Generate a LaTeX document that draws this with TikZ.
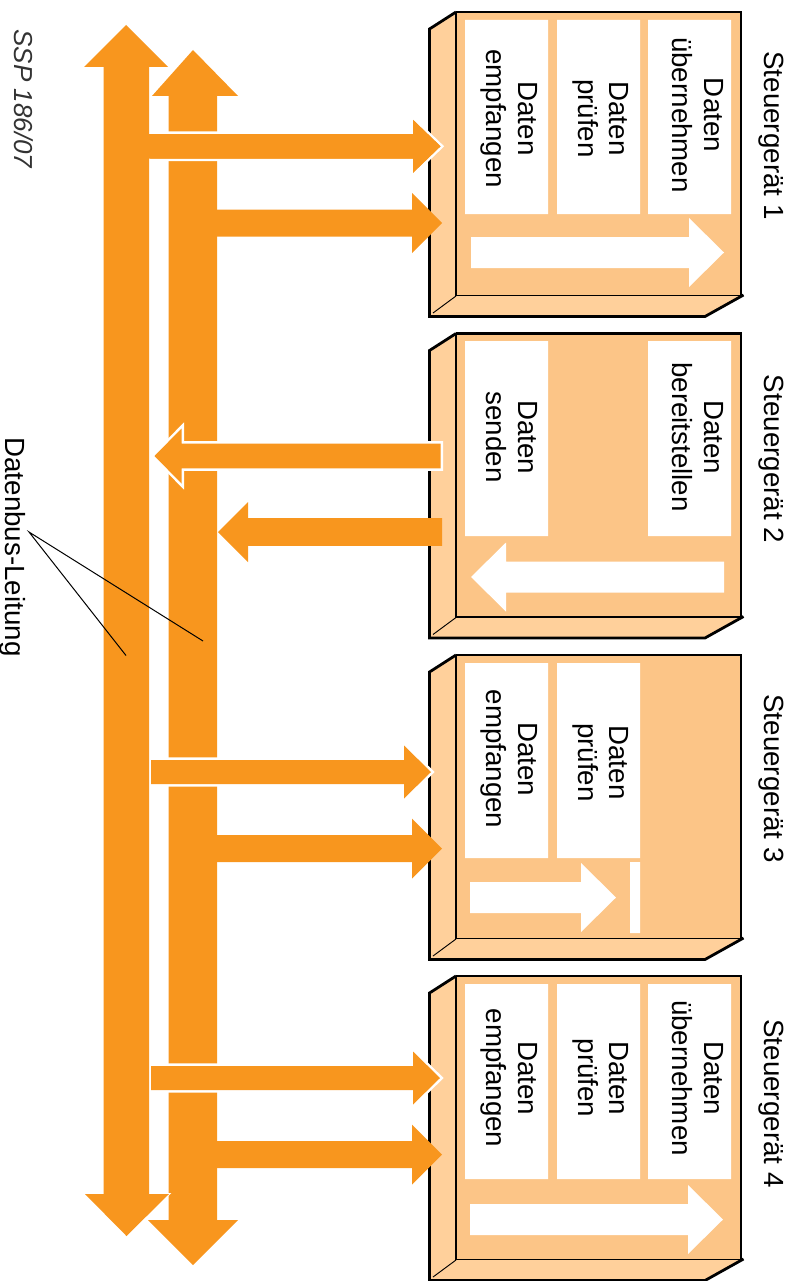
\documentclass[tikz,border=0pt]{standalone}
\usepackage{fontspec}
\setmainfont{Liberation Sans}
\definecolor{bus}{HTML}{F8961E}
\definecolor{frontc}{HTML}{FCC587}
\definecolor{sidec}{HTML}{FFD09B}
\newcommand{\ArrowR}[6]{(#1,#4-#5) -- (#2,#4-#5) -- (#2,#4-#6) -- (#3,#4) -- (#2,#4+#6) -- (#2,#4+#5) -- (#1,#4+#5) -- cycle}
\newcommand{\Unit}[1]{%
  \fill[sidec] (429.5,#1+17) -- (456,#1) -- (743,#1+283.5) -- (705,#1+304.5) -- (429.5,#1+304.5) -- cycle;
  \fill[frontc] (456,#1) rectangle (741,#1+283.5);
  \draw[edgeb,line join=miter] (456,#1) -- (429.5,#1+17) -- (429.5,#1+304.5) -- (705,#1+304.5) -- (743.5,#1+283);
  \draw[edgeb] (456,#1) -- (741,#1) -- (741,#1+283.5);
  \draw[edgem] (456,#1) -- (456,#1+283.5) -- (741,#1+283.5);
  \draw[edget] (456,#1+284) -- (433,#1+301);
}
\tikzset{
  x=0.75pt,y=-0.75pt,
  edgeb/.style={draw=black,line width=2.1pt},
  edgem/.style={draw=black,line width=1.3pt},
  edget/.style={draw=black,line width=0.7pt},
  busarrow/.style={fill=bus},
  halo/.style={draw=white,line width=3.8pt,line join=miter,miter limit=10},
  whitepart/.style={fill=white},
  lbl/.style={rotate=-90,anchor=base,inner sep=0pt,font=\fontsize{20.8}{24}\selectfont},
  two/.style={rotate=-90,anchor=center,inner sep=0pt,align=center,font=\fontsize{20.8}{23.6}\selectfont},
  leader/.style={draw=black,line width=0.75pt},
}
\newcommand{\Two}[2]{\strut #1\\\strut #2}
\begin{document}
\begin{tikzpicture}
\useasboundingbox (0,0) rectangle (796,1281);
% right bus
\fill[busarrow] (168.5,96) -- (152,96) -- (193,50) -- (238,96) -- (217,96) -- (217,1220) -- (238,1220) -- (193,1265) -- (148,1220) -- (168.5,1220) -- cycle;
% control units
\Unit{12}\Unit{333.5}\Unit{655}\Unit{976}
% white panels, unit 1
\fill[whitepart] (465,20) rectangle (548,214) (557,20) rectangle (640,214) (648,20) rectangle (731,214);
\fill[whitepart] \ArrowR{471}{689}{724}{252.5}{15.5}{34.5};
% unit 2
\fill[whitepart] (465,341) rectangle (548,536) (648,341) rectangle (731,536);
\fill[whitepart] \ArrowR{724}{506}{471}{577}{15.5}{34.5};
% unit 3
\fill[whitepart] (465,663) rectangle (548,858) (557,663) rectangle (640,858) (630,862) rectangle (640,933);
\fill[whitepart] \ArrowR{470}{581}{616}{897.5}{15.5}{34.5};
% unit 4
\fill[whitepart] (465,984) rectangle (548,1179) (557,984) rectangle (640,1179) (648,984) rectangle (731,1179);
\fill[whitepart] \ArrowR{470}{688}{723}{1219.5}{15.5}{34.5};
% arrows with halo
\draw[halo] \ArrowR{145}{413}{440.5}{146.3}{12.3}{26.5};
\fill[busarrow] \ArrowR{145}{413}{440.5}{146.3}{12.3}{26.5};
\draw[halo] \ArrowR{440.5}{181.5}{154.5}{456}{12.3}{27.5};
\fill[busarrow] \ArrowR{440.5}{181.5}{154.5}{456}{12.3}{27.5};
\draw[halo] \ArrowR{151}{404}{431}{772}{12}{26.5};
\fill[busarrow] \ArrowR{151}{404}{431}{772}{12}{26.5};
\draw[halo] \ArrowR{151}{413}{440}{1078}{12}{26.5};
\fill[busarrow] \ArrowR{151}{413}{440}{1078}{12}{26.5};
% plain arrows
\fill[busarrow] \ArrowR{210}{412}{442}{223}{13.5}{30};
\fill[busarrow] \ArrowR{442}{248}{218}{532}{13.8}{30};
\fill[busarrow] \ArrowR{210}{412}{442}{848.5}{13.5}{30};
\fill[busarrow] \ArrowR{210}{412}{442}{1154.5}{13.5}{30};
% left bus
\draw[draw=white,line width=1.5pt] (103.5,67) -- (84,67) -- (126,25) -- (168,67) -- (149,67) -- (149,1194) -- (169,1194) -- (126.5,1236) -- (85,1194) -- (103.5,1194) -- cycle;
\fill[busarrow] (103.5,67) -- (84,67) -- (126,25) -- (168,67) -- (149,67) -- (149,1194) -- (169,1194) -- (126.5,1236) -- (85,1194) -- (103.5,1194) -- cycle;
\fill[busarrow] \ArrowR{145}{413}{440.5}{146.3}{12.3}{26.5};
% titles
\node[lbl] (t1) at (764,135.5) {Steuergerät 1};
\node[lbl] (t2) at (764,459) {Steuergerät 2};
\node[lbl] (t3) at (764,778.5) {Steuergerät 3};
\node[lbl] (t4) at (764,1103.5) {Steuergerät 4};
% panel labels
\node[two] (a1) at (509,118.5) {\Two{Daten}{empfangen}};
\node[two] (b1) at (600.5,118.5) {\Two{Daten}{prüfen}};
\node[two] (c1) at (695,115) {\Two{Daten}{übernehmen}};
\node[two] (a2) at (509,437) {\Two{Daten}{senden}};
\node[two] (c2) at (695,437) {\Two{Daten}{bereitstellen}};
\node[two] (a3) at (509,759) {\Two{Daten}{empfangen}};
\node[two] (b3) at (600.5,762.5) {\Two{Daten}{prüfen}};
\node[two] (a4) at (509,1078) {\Two{Daten}{empfangen}};
\node[two] (b4) at (600.5,1078) {\Two{Daten}{prüfen}};
\node[two] (c4) at (695,1078) {\Two{Daten}{übernehmen}};
% bus label and reference
\node[lbl] (busl) at (5.5,547) {Datenbus-Leitung};
\node[rotate=-90,anchor=base,inner sep=0pt,text=black!80,font=\fontsize{19.5}{23}\selectfont\itshape] (ref) at (14,99) {SSP 186/07};
\coordinate (fork) at (29,532);
\coordinate (la) at (126,655.5);
\coordinate (lb) at (203,641);
\draw[leader] (la) -- (fork) -- (lb);
\end{tikzpicture}
\end{document}
